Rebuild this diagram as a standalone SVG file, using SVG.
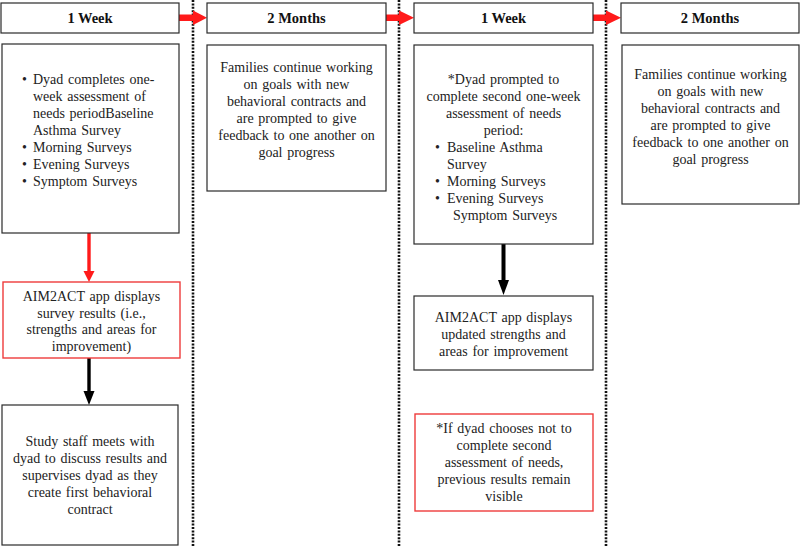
<svg xmlns="http://www.w3.org/2000/svg" width="800" height="546" viewBox="0 0 800 546">
<style>
  .box { fill: #ffffff; stroke: #2a2a2a; stroke-width: 1.2; }
  .rbox { fill: #ffffff; stroke: #ee3b3b; stroke-width: 1.4; }
  .hdr { font-family: "Liberation Serif", "Times New Roman", serif; font-size: 14.5px; font-weight: bold; fill: #111; text-anchor: middle; }
  .t { font-family: "Liberation Serif", "Times New Roman", serif; font-size: 14px; fill: #222; word-spacing: 1.2px; }
  .c { text-anchor: middle; }
  .dot { stroke: #111; stroke-width: 2.6; stroke-dasharray: 2 1.4; fill: none; }
</style>
<rect x="0" y="0" width="800" height="546" fill="#ffffff"/>

<g id="dividers">
  <line class="dot" x1="193" y1="0" x2="193" y2="546"/>
  <line class="dot" x1="399" y1="0" x2="399" y2="546"/>
  <line class="dot" x1="606" y1="0" x2="606" y2="546"/>
</g>

<g id="connectors">
  <!-- red header arrows -->
  <rect x="179" y="14.5" width="15" height="6.5" fill="#ff1a1a"/>
  <polygon points="193,10.5 207,17.75 193,25" fill="#ff1a1a"/>
  <rect x="386" y="14.5" width="14" height="6.5" fill="#ff1a1a"/>
  <polygon points="399,10.5 414,17.75 399,25" fill="#ff1a1a"/>
  <rect x="593" y="14.5" width="14" height="6.5" fill="#ff1a1a"/>
  <polygon points="606,10.5 621,17.75 606,25" fill="#ff1a1a"/>
  <!-- vertical arrows -->
  <rect x="87.3" y="233" width="3.4" height="40" fill="#ff1a1a"/>
  <polygon points="83.5,271 94.5,271 89,282" fill="#ff1a1a"/>
  <rect x="87.3" y="358" width="3.4" height="34" fill="#000"/>
  <polygon points="83.5,391 94.5,391 89,405" fill="#000"/>
  <rect x="501.5" y="244" width="4" height="38" fill="#000"/>
  <polygon points="498,280 509,280 503.5,295" fill="#000"/>
</g>

<g id="h1"><rect class="box" x="1" y="3" width="178" height="30"/><text class="hdr" x="90" y="22.5">1 Week</text></g>
<g id="h2"><rect class="box" x="207" y="3" width="179" height="30"/><text class="hdr" x="296.5" y="22.5">2 Months</text></g>
<g id="h3"><rect class="box" x="414" y="3" width="179" height="30"/><text class="hdr" x="503.5" y="22.5">1 Week</text></g>
<g id="h4"><rect class="box" x="621" y="3" width="178" height="30"/><text class="hdr" x="710" y="22.5">2 Months</text></g>

<g id="boxA">
  <rect class="box" x="2" y="44" width="177" height="189"/>
  <text class="t" x="22" y="84">•</text><text class="t" x="33" y="84">Dyad completes one-</text>
  <text class="t" x="33" y="101">week assessment of</text>
  <text class="t" x="33" y="118">needs periodBaseline</text>
  <text class="t" x="33" y="135">Asthma Survey</text>
  <text class="t" x="22" y="152">•</text><text class="t" x="33" y="152">Morning Surveys</text>
  <text class="t" x="22" y="169">•</text><text class="t" x="33" y="169">Evening Surveys</text>
  <text class="t" x="22" y="186">•</text><text class="t" x="33" y="186">Symptom Surveys</text>
</g>

<g id="boxB">
  <rect class="box" x="207" y="45" width="179" height="146"/>
  <text class="t c" x="296.5" y="72">Families continue working</text>
  <text class="t c" x="296.5" y="89">on goals with new</text>
  <text class="t c" x="296.5" y="106">behavioral contracts and</text>
  <text class="t c" x="296.5" y="123">are prompted to give</text>
  <text class="t c" x="296.5" y="140">feedback to one another on</text>
  <text class="t c" x="296.5" y="157">goal progress</text>
</g>

<g id="boxC">
  <rect class="box" x="414" y="45" width="179" height="199"/>
  <text class="t c" x="503.5" y="84">*Dyad prompted to</text>
  <text class="t c" x="503.5" y="101">complete second one-week</text>
  <text class="t c" x="503.5" y="118">assessment of needs</text>
  <text class="t c" x="503.5" y="135">period:</text>
  <text class="t" x="435" y="152">•</text><text class="t" x="447" y="152">Baseline Asthma</text>
  <text class="t" x="447" y="169">Survey</text>
  <text class="t" x="435" y="186">•</text><text class="t" x="447" y="186">Morning Surveys</text>
  <text class="t" x="435" y="203">•</text><text class="t" x="447" y="203">Evening Surveys</text>
  <text class="t" x="453" y="220">Symptom Surveys</text>
</g>

<g id="boxD">
  <rect class="box" x="622" y="45" width="177" height="159"/>
  <text class="t c" x="710.5" y="79">Families continue working</text>
  <text class="t c" x="710.5" y="96">on goals with new</text>
  <text class="t c" x="710.5" y="113">behavioral contracts and</text>
  <text class="t c" x="710.5" y="130">are prompted to give</text>
  <text class="t c" x="710.5" y="147">feedback to one another on</text>
  <text class="t c" x="710.5" y="164">goal progress</text>
</g>

<g id="boxE">
  <rect class="rbox" x="3" y="282" width="177" height="76"/>
  <text class="t c" x="91.5" y="301">AIM2ACT app displays</text>
  <text class="t c" x="91.5" y="317.5">survey results (i.e.,</text>
  <text class="t c" x="91.5" y="334">strengths and areas for</text>
  <text class="t c" x="91.5" y="350.5">improvement)</text>
</g>

<g id="boxF">
  <rect class="box" x="2" y="405" width="176" height="140"/>
  <text class="t c" x="90" y="446">Study staff meets with</text>
  <text class="t c" x="90" y="463">dyad to discuss results and</text>
  <text class="t c" x="90" y="480">supervises dyad as they</text>
  <text class="t c" x="90" y="497">create first behavioral</text>
  <text class="t c" x="90" y="514">contract</text>
</g>

<g id="boxG">
  <rect class="box" x="414" y="296" width="179" height="74"/>
  <text class="t c" x="503.5" y="321.5">AIM2ACT app displays</text>
  <text class="t c" x="503.5" y="338.5">updated strengths and</text>
  <text class="t c" x="503.5" y="355.5">areas for improvement</text>
</g>

<g id="boxH">
  <rect class="rbox" x="415" y="414" width="178" height="97"/>
  <text class="t c" x="504" y="433">*If dyad chooses not to</text>
  <text class="t c" x="504" y="450">complete second</text>
  <text class="t c" x="504" y="467">assessment of needs,</text>
  <text class="t c" x="504" y="484">previous results remain</text>
  <text class="t c" x="504" y="501">visible</text>
</g>
</svg>
